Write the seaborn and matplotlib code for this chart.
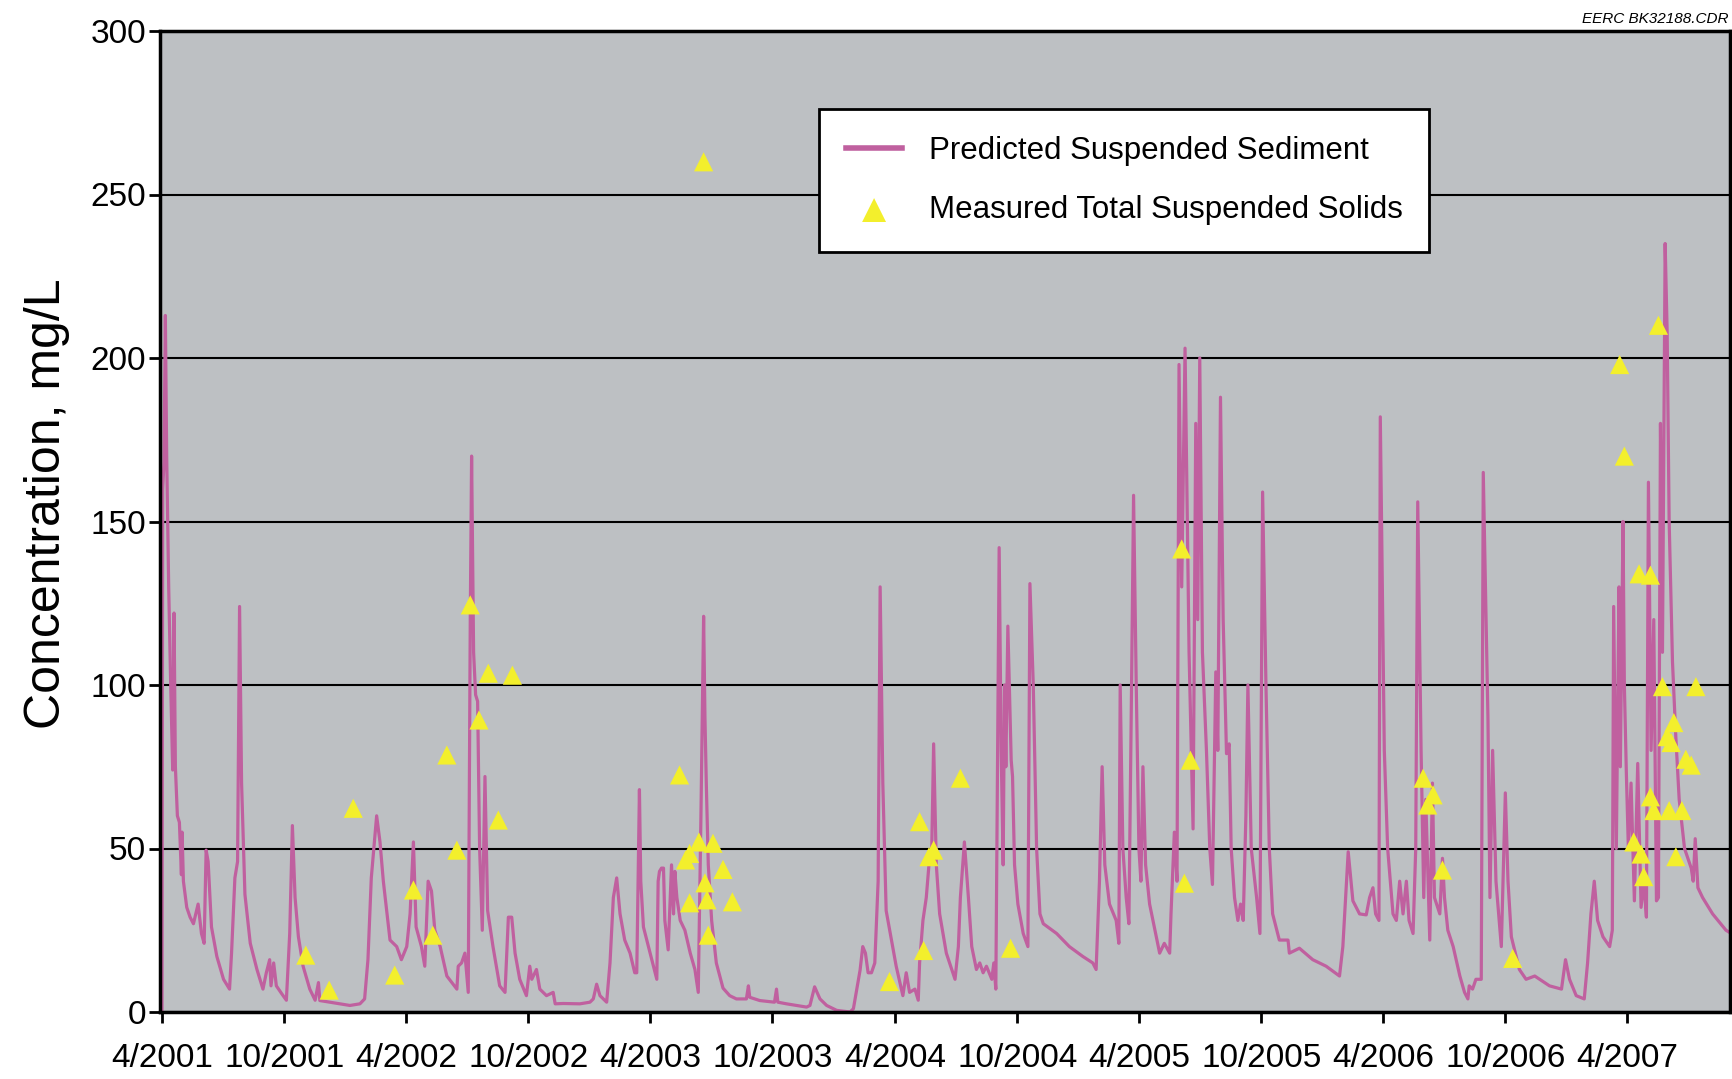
import pandas as pd
import matplotlib
matplotlib.use('Agg')
import matplotlib.pyplot as plt
import seaborn as sns

start = pd.Timestamp('2001-04-01')

# Predicted suspended sediment: day after 1 April 2001, concentration mg/L
pred_day = [
    -3, 0, 1, 3, 5, 7, 10, 13, 16, 18, 20, 23, 26, 29, 30, 32, 37, 42, 47, 54,
    59, 63, 66, 69, 74, 82, 92, 101, 104, 109, 113, 116, 119, 124, 132, 142, 151, 156, 161, 163,
    167, 171, 179, 186, 191, 195, 199, 204, 211, 221, 229, 234, 236, 251, 266, 281, 296, 303, 308, 313,
    321, 326, 331, 341, 351, 358, 366, 371, 376, 380, 388, 393, 398, 403, 408, 416, 426, 441, 443, 448,
    453, 458, 461, 463, 466, 469, 472, 475, 479, 483, 487, 495, 505, 513, 518, 523, 528, 535, 545, 550,
    553, 560, 565, 575, 585, 588, 600, 625, 640, 645, 650, 655, 665, 670, 675, 680, 685, 692, 700, 707,
    710, 714, 716, 720, 730, 740, 742, 744, 747, 750, 752, 757, 762, 765, 767, 770, 775, 782, 790, 797,
    802, 806, 810, 812, 814, 817, 822, 829, 839, 849, 859, 874, 877, 879, 894, 916, 919, 921, 934, 949,
    964, 969, 976, 984, 994, 1009, 1029, 1034, 1044, 1048, 1052, 1056, 1061, 1066, 1071, 1074, 1078, 1083, 1091, 1098,
    1108, 1113, 1118, 1126, 1131, 1133, 1138, 1143, 1147, 1151, 1154, 1158, 1163, 1173, 1186, 1191, 1194, 1200, 1206, 1211,
    1218, 1223, 1228, 1233, 1241, 1244, 1247, 1249, 1252, 1255, 1258, 1260, 1262, 1265, 1270, 1272, 1275, 1280, 1288, 1295,
    1298, 1303, 1308, 1313, 1318, 1338, 1357, 1377, 1392, 1397, 1402, 1406, 1410, 1417, 1427, 1431, 1433, 1437, 1442, 1446,
    1450, 1453, 1457, 1461, 1464, 1467, 1471, 1477, 1485, 1492, 1499, 1507, 1509, 1514, 1518, 1521, 1525, 1530, 1536, 1542,
    1546, 1549, 1552, 1556, 1562, 1567, 1571, 1576, 1579, 1583, 1587, 1592, 1596, 1599, 1604, 1609, 1613, 1617, 1621, 1624,
    1629, 1637, 1642, 1646, 1651, 1656, 1661, 1671, 1684, 1686, 1701, 1721, 1741, 1761, 1766, 1774, 1781, 1791, 1801, 1806,
    1811, 1815, 1820, 1822, 1828, 1833, 1841, 1846, 1851, 1856, 1861, 1865, 1871, 1875, 1878, 1883, 1887, 1890, 1896, 1900,
    1903, 1911, 1915, 1918, 1923, 1931, 1941, 1948, 1953, 1955, 1960, 1965, 1973, 1976, 1983, 1986, 1990, 1995, 2003, 2009,
    2013, 2018, 2030, 2040, 2053, 2075, 2093, 2099, 2105, 2115, 2127, 2132, 2137, 2142, 2147, 2155, 2165, 2169, 2171, 2175,
    2179, 2181, 2185, 2187, 2190, 2193, 2197, 2202, 2207, 2212, 2216, 2220, 2223, 2227, 2231, 2235, 2238, 2241, 2244, 2248,
    2251, 2254, 2259, 2264, 2269, 2277, 2282, 2287, 2290, 2293, 2297, 2304, 2319, 2339, 2347,
]
pred_conc = [
    0, 0, 160, 168, 213, 170, 130, 100, 74, 122, 75, 60, 58, 42, 55, 40, 32, 29, 27, 33,
    24, 21, 49.5, 46, 26, 17, 10, 7, 18, 41, 46, 124, 70, 36, 21, 13, 7, 12, 16, 8,
    15, 8, 5.6, 3.6, 24, 57, 35, 23, 14, 7, 3.6, 9, 3.5, 3, 2.5, 2, 2.5, 4, 16, 41,
    60, 52, 40, 22, 20, 16, 20, 30, 52, 26, 20, 14, 40, 37, 25, 20, 11, 7, 14, 15,
    18, 6, 120, 170, 110, 97, 95, 50, 25, 72, 31, 20, 8, 6, 29, 29, 18, 10, 5, 14,
    10, 13, 7, 5, 6, 2.5, 2.6, 2.5, 3, 4, 8.5, 5, 3, 15, 35, 41, 30, 22, 18, 12,
    12, 68, 40, 26, 18, 10, 40, 43, 44, 44, 28, 19, 45, 30, 43, 35, 28, 25, 18, 13,
    6, 60, 121, 90, 70, 45, 28, 15, 7.3, 5, 4, 4, 8, 4.5, 3.5, 3, 7, 3, 2.5, 2,
    1.5, 2, 7.7, 4, 2, 0.5, 0, 1, 12.8, 20, 18, 12, 12, 15, 40, 130, 70, 31, 22, 14,
    5, 12, 6, 7, 3.6, 15, 28, 35, 45, 48, 82, 45, 30, 18, 10, 20, 35, 52, 35, 20,
    13, 15, 12, 14, 10, 15, 7, 60, 142, 80, 45, 100, 75, 118, 77, 72, 45, 33, 24, 20,
    131, 100, 50, 30, 27, 24, 20, 17, 15, 13, 40, 75, 45, 33, 28, 21, 100, 50, 35, 27,
    100, 158, 100, 50, 40, 75, 45, 33, 25, 18, 21, 18, 30, 55, 40, 198, 130, 203, 110, 56,
    180, 120, 200, 110, 80, 50, 39, 104, 80, 188, 120, 79, 82, 50, 35, 28, 33, 28, 60, 100,
    50, 35, 24, 159, 100, 50, 30, 22, 22, 18, 19.5, 16, 14, 11, 20, 49, 34, 30, 29.7, 35,
    38, 30, 28, 182, 80, 50, 30, 28, 40, 30, 40, 28, 24, 50, 156, 80, 35, 65, 22, 70,
    35, 30, 47, 35, 25, 20, 11, 6, 4, 8, 7, 10, 10, 165, 90, 35, 80, 40, 20, 67,
    40, 23, 13, 10, 11, 8, 7, 16, 10, 5, 4, 15, 30, 40, 28, 23, 20, 25, 124, 50,
    130, 75, 150, 100, 73, 50, 70, 34, 76, 32, 40, 29, 162, 80, 120, 34, 35, 180, 110, 235,
    208, 150, 107, 84, 65, 50, 47, 44, 40, 53, 38, 35, 30, 25, 24,
]

# Measured total suspended solids
tss_day = [
    215, 250, 286, 348, 376, 405, 426, 441, 461, 474, 488, 503, 524,
    774, 783, 789, 789, 803, 810, 812, 815, 817, 824, 839, 853,
    1088, 1133, 1139, 1147, 1154, 1194, 1269, 1525, 1529, 1538,
    1886, 1893, 1901, 1915, 2020,
    2180, 2187, 2201, 2209, 2212, 2216, 2226, 2226, 2231, 2238, 2244, 2251,
    2254, 2257, 2261, 2264, 2273, 2279, 2287, 2294,
]
tss_conc = [
    17.4, 6.7, 62.3, 11.3, 37.3, 23.5, 78.6, 49.5, 124.5, 89.3, 103.6, 58.7, 103,
    72.5, 46.5, 48.5, 33.4, 52, 260, 39.5, 34.3, 23.5, 51.6, 43.6, 33.7,
    9.3, 58.2, 18.8, 47.5, 49.5, 71.5, 19.5, 141.6, 39.4, 77,
    71.5, 63.3, 66.4, 43.4, 16.4,
    198, 170, 52, 134, 48.3, 41.4, 133.6, 65.8, 61.6, 210, 99.5, 84.2,
    61.6, 82.4, 88.5, 47.5, 61.6, 77.3, 75.5, 99.5,
]

tick_labels = ['4/2001', '10/2001', '4/2002', '10/2002', '4/2003', '10/2003', '4/2004',
               '10/2004', '4/2005', '10/2005', '4/2006', '10/2006', '4/2007']
y_ticks = [0, 50, 100, 150, 200, 250, 300]

pred = pd.DataFrame({'date': start + pd.to_timedelta(pred_day, unit='D'), 'conc': pred_conc})
tss = pd.DataFrame({'date': start + pd.to_timedelta(tss_day, unit='D'), 'conc': tss_conc})
tick_dates = [pd.Timestamp(year=int(t.split('/')[1]), month=int(t.split('/')[0]), day=1) for t in tick_labels]

plt.rcParams['font.family'] = ['Liberation Sans', 'DejaVu Sans']

fig = plt.figure(figsize=(17.32, 10.79), dpi=100)
ax = fig.add_axes([160 / 1732, 1 - 1012 / 1079, 1570 / 1732, 981 / 1079])
ax.set_facecolor('#bdc0c3')

sns.lineplot(data=pred, x='date', y='conc', color='#c0609f', lw=2.3, estimator=None,
             sort=False, ax=ax, label='Predicted Suspended Sediment', zorder=2)
sns.scatterplot(data=tss, x='date', y='conc', marker='^', s=190, color='#f3ef2c',
                edgecolor='none', ax=ax, label='Measured Total Suspended Solids', zorder=3)

ax.set_xlim(start - pd.Timedelta(days=3), start + pd.Timedelta(days=2345))
ax.set_ylim(0, 300)
ax.set_yticks(y_ticks)
ax.set_xticks(tick_dates)
ax.set_xticklabels(tick_labels)
ax.set_axisbelow(True)
ax.grid(axis='y', color='black', lw=1.5)
ax.grid(axis='x', visible=False)
for s in ax.spines.values():
    s.set_color('black')
    s.set_linewidth(2.5)
ax.tick_params(direction='out', length=8, width=2, labelsize=24, colors='black')
ax.tick_params(axis='y', pad=2)
ax.tick_params(axis='x', pad=14)
ax.set_xlabel('')
ax.set_ylabel('Concentration, mg/L', fontsize=36, va='center')
ax.yaxis.set_label_coords(-0.072, 0.518)

leg = ax.legend(loc='upper left', bbox_to_anchor=(0.42, 0.9205), fontsize=22.5,
                frameon=True, fancybox=False, framealpha=1, edgecolor='black',
                borderpad=0.85, labelspacing=0.95, handlelength=1.8, handletextpad=0.85,
                markerscale=1.25, borderaxespad=0)
leg.get_frame().set_linewidth(2)
leg.get_lines()[0].set_linewidth(4)

fig.text(0.998, 1 - 19 / 1079, 'EERC BK32188.CDR', ha='right', va='center',
         style='italic', fontsize=11)

fig.savefig('out.png', dpi=100, facecolor='white')
